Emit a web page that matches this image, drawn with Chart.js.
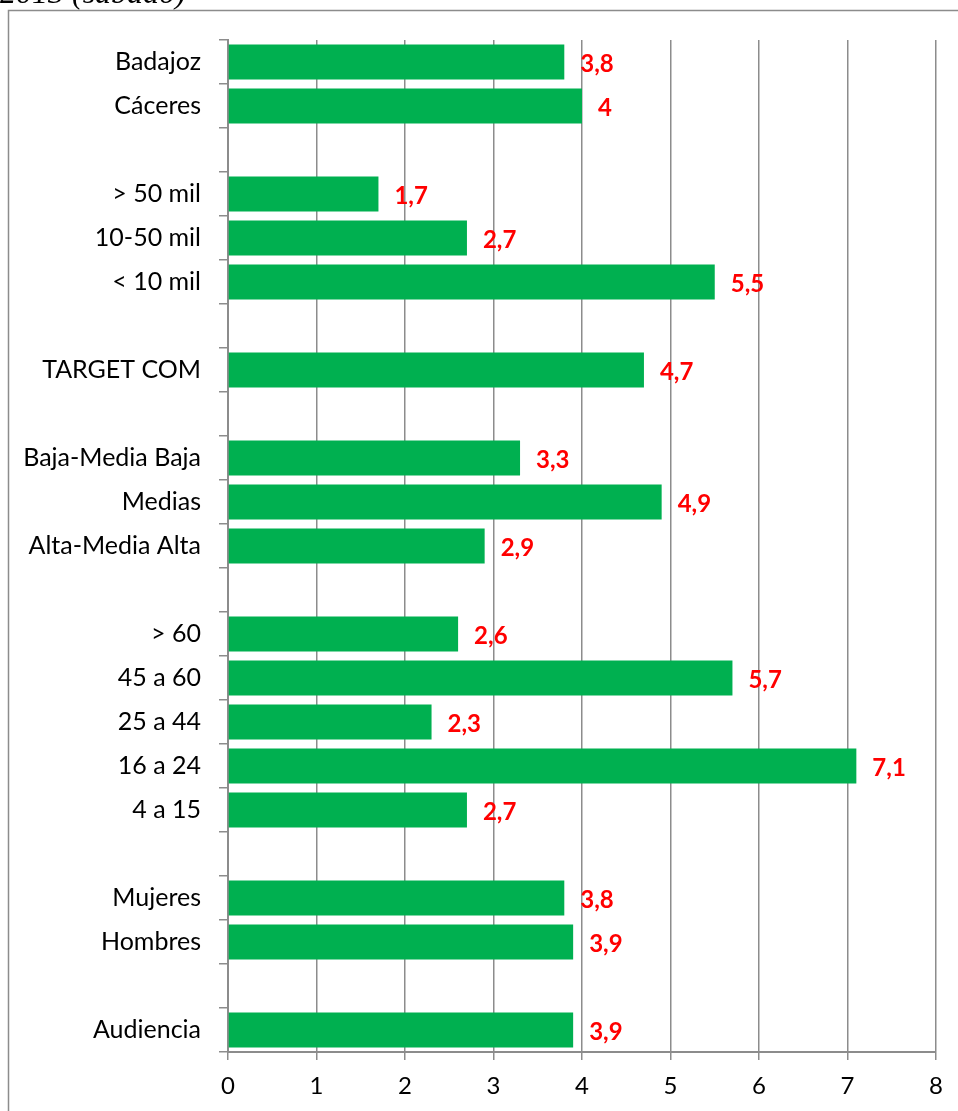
<!DOCTYPE html>
<html>
<head>
<meta charset="utf-8">
<script src="https://cdn.jsdelivr.net/npm/chart.js@4"></script>
<style>
  html, body { margin: 0; padding: 0; background: #fff; }
  #wrap { position: relative; width: 958px; height: 1111px; overflow: hidden; }
</style>
</head>
<body>
<div id="wrap"><canvas id="c" width="958" height="1111"></canvas></div>
<script>
// Categories, top to bottom; empty strings are spacer rows between groups
const categories = [
  'Badajoz', 'Cáceres', '',
  '> 50 mil', '10-50 mil', '< 10 mil', '',
  'TARGET COM', '',
  'Baja-Media Baja', 'Medias', 'Alta-Media Alta', '',
  '> 60', '45 a 60', '25 a 44', '16 a 24', '4 a 15', '',
  'Mujeres', 'Hombres', '',
  'Audiencia'
];
const shareValues = [
  3.8, 4, null,
  1.7, 2.7, 5.5, null,
  4.7, null,
  3.3, 4.9, 2.9, null,
  2.6, 5.7, 2.3, 7.1, 2.7, null,
  3.8, 3.9, null,
  3.9
];
const xTicks = [0, 1, 2, 3, 4, 5, 6, 7, 8];
const titleText = '2013 (sábado)';

const fmt = v => String(v).replace('.', ',');

// Outer frame and the heading line above it
const framePlugin = {
  id: 'frame',
  beforeDraw(chart) {
    const ctx = chart.ctx;
    ctx.save();
    ctx.fillStyle = '#fff';
    ctx.fillRect(0, 0, chart.width, chart.height);
    ctx.strokeStyle = '#8c8c8c';
    ctx.lineWidth = 1.5;
    ctx.beginPath();
    ctx.moveTo(8.5, chart.height);
    ctx.lineTo(8.5, 10.5);
    ctx.lineTo(chart.width, 10.5);
    ctx.stroke();
    ctx.fillStyle = '#000';
    ctx.font = 'italic 32px "Liberation Serif", "DejaVu Serif", serif';
    ctx.textBaseline = 'alphabetic';
    ctx.textAlign = 'left';
    ctx.fillText(titleText, 0, 2.5);
    ctx.restore();
  }
};

// Value labels to the right of each bar
const valueLabels = {
  id: 'valueLabels',
  afterDatasetsDraw(chart) {
    const ctx = chart.ctx;
    const meta = chart.getDatasetMeta(0);
    ctx.save();
    ctx.fillStyle = '#ff0000';
    ctx.font = 'bold 24px Lato, "Open Sans", sans-serif';
    ctx.textAlign = 'left';
    ctx.textBaseline = 'middle';
    meta.data.forEach((bar, i) => {
      const v = shareValues[i];
      if (v === null || v === undefined) return;
      ctx.fillText(fmt(v), bar.x + 16, bar.y + 2);
    });
    ctx.restore();
  }
};

new Chart(document.getElementById('c'), {
  type: 'bar',
  data: {
    labels: categories,
    datasets: [{
      data: shareValues,
      backgroundColor: '#00b050',
      borderWidth: 0,
      categoryPercentage: 1,
      barPercentage: 0.8
    }]
  },
  options: {
    indexAxis: 'y',
    responsive: false,
    animation: false,
    devicePixelRatio: 1,
    layout: { padding: { top: 40, right: 22, left: 0, bottom: 0 } },
    plugins: {
      legend: { display: false },
      tooltip: { enabled: false }
    },
    scales: {
      x: {
        min: 0,
        max: 8,
        afterFit(scale) { scale.height = 59; },
        afterBuildTicks(scale) { scale.ticks = xTicks.map(v => ({ value: v })); },
        grid: {
          color: '#8c8c8c',
          lineWidth: 1.5,
          tickLength: 8,
          drawTicks: true
        },
        border: { display: true, color: '#8c8c8c', width: 2 },
        ticks: {
          color: '#000',
          padding: 12,
          font: { size: 24, family: 'Lato, "Open Sans", sans-serif' }
        }
      },
      y: {
        afterFit(scale) { scale.width = 228; },
        grid: {
          drawOnChartArea: false,
          color: '#8c8c8c',
          lineWidth: 1.5,
          tickLength: 9
        },
        border: { display: true, color: '#8c8c8c', width: 2 },
        ticks: {
          color: '#000',
          padding: 18,
          autoSkip: false,
          font: { size: 25, family: 'Lato, "Open Sans", sans-serif' }
        }
      }
    }
  },
  plugins: [framePlugin, valueLabels]
});
</script>
</body>
</html>
